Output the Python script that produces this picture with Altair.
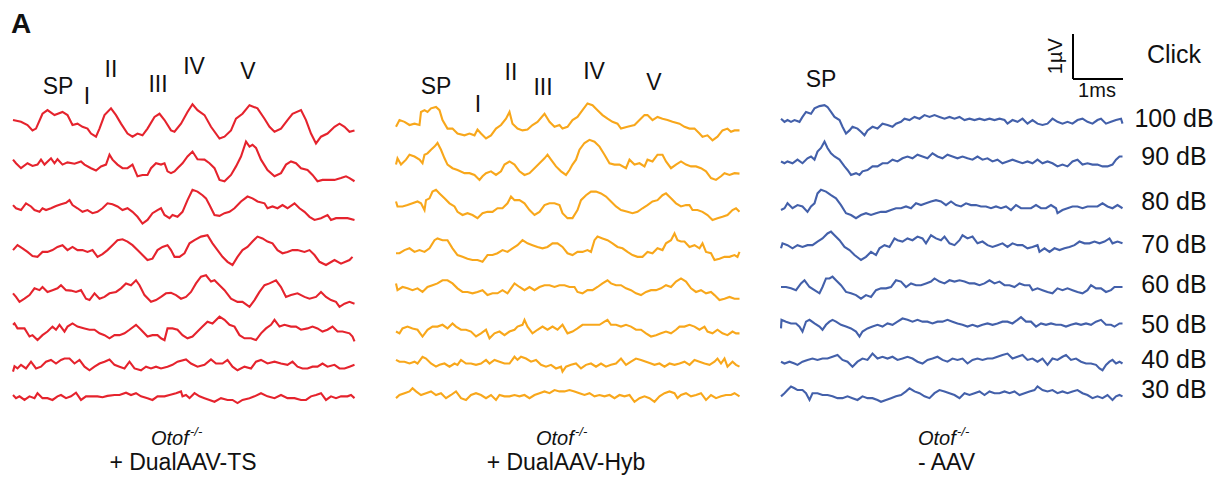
import altair as alt
import pandas as pd

# ---------------- data (time in ms, amplitude in µV relative to each trace's baseline) ----------------
LEVELS = ["100 dB", "90 dB", "80 dB", "70 dB", "60 dB", "50 dB", "40 dB", "30 dB"]
ROW_OFFSET_UV = [7.84, 6.96, 6.00, 5.02, 4.13, 3.29, 2.51, 1.78]

TS_100 = [(0,0.07),(0.16,0.03),(0.29,-0.04),(0.39,-0.16),(0.46,-0.12),(0.59,0.21),(0.69,0.29),(0.83,0.18),(0.99,0.25),(1.09,0.18),(1.19,-0.04),(1.29,-0.01),(1.39,-0.08),(1.49,-0.12),(1.56,-0.23),(1.66,-0.30),(1.73,-0.12),(1.83,0.18),(1.96,0.33),(2.06,0.18),(2.16,-0.01),(2.29,-0.23),(2.39,-0.30),(2.49,-0.23),(2.59,-0.27),(2.69,-0.12),(2.83,0.14),(2.93,0.21),(3.03,0.07),(3.16,-0.16),(3.23,-0.19),(3.36,-0.01),(3.49,0.25),(3.59,0.42),(3.69,0.29),(3.83,0.18),(3.96,-0.08),(4.13,-0.34),(4.23,-0.30),(4.36,-0.16),(4.46,0.10),(4.59,0.21),(4.73,0.40),(4.89,0.33),(5.03,0.10),(5.13,-0.08),(5.23,-0.19),(5.36,-0.12),(5.49,0.07),(5.59,0.21),(5.76,0.29),(5.86,0.07),(5.96,-0.23),(6.06,-0.45),(6.16,-0.30),(6.29,-0.23),(6.43,-0.08),(6.53,-0.01),(6.63,-0.08),(6.73,-0.19),(6.83,-0.16)]
TS_90 = [(0,0.07),(0.06,-0.01),(0.16,-0.12),(0.29,-0.01),(0.39,-0.07),(0.49,-0.04),(0.56,0.07),(0.63,-0.04),(0.76,0.10),(0.83,-0.01),(0.89,0.08),(0.99,-0.04),(1.09,0.01),(1.23,-0.02),(1.36,0.03),(1.43,-0.04),(1.56,-0.12),(1.66,-0.17),(1.76,-0.08),(1.86,-0.04),(1.93,0.18),(1.99,0.07),(2.09,-0.04),(2.19,-0.12),(2.29,-0.12),(2.39,-0.04),(2.49,-0.30),(2.59,-0.27),(2.69,-0.27),(2.76,-0.12),(2.86,-0.01),(2.96,-0.04),(3.03,-0.01),(3.09,-0.19),(3.16,-0.23),(3.23,-0.19),(3.29,-0.12),(3.39,-0.01),(3.49,0.14),(3.59,0.25),(3.69,0.08),(3.83,0.07),(3.93,-0.01),(4.03,-0.12),(4.13,-0.38),(4.23,-0.41),(4.36,-0.27),(4.46,-0.08),(4.56,0.14),(4.66,0.47),(4.73,0.36),(4.79,0.40),(4.86,0.33),(4.96,0.07),(5.09,-0.16),(5.23,-0.30),(5.36,-0.23),(5.46,-0.04),(5.56,0.03),(5.66,-0.01),(5.76,-0.12),(5.89,-0.16),(5.99,-0.27),(6.09,-0.41),(6.19,-0.38),(6.29,-0.38),(6.43,-0.38),(6.56,-0.34),(6.66,-0.30),(6.73,-0.34),(6.83,-0.41)]
TS_80 = [(0,0.02),(0.06,-0.05),(0.16,-0.09),(0.26,0.06),(0.36,-0.01),(0.43,-0.09),(0.53,-0.13),(0.59,-0.05),(0.66,-0.09),(0.76,-0.05),(0.86,0.00),(0.96,0.04),(1.06,0.07),(1.13,0.13),(1.19,0.02),(1.29,-0.05),(1.39,-0.13),(1.49,-0.09),(1.59,-0.16),(1.69,-0.13),(1.79,-0.05),(1.89,0.06),(1.99,0.04),(2.09,-0.01),(2.19,-0.09),(2.29,-0.05),(2.39,-0.13),(2.49,-0.24),(2.59,-0.39),(2.69,-0.31),(2.79,-0.16),(2.89,-0.09),(2.96,-0.05),(3.03,-0.20),(3.13,-0.27),(3.19,-0.20),(3.29,-0.24),(3.39,-0.13),(3.49,0.13),(3.59,0.36),(3.69,0.32),(3.79,0.24),(3.86,0.17),(3.93,0.02),(4.03,-0.20),(4.13,-0.22),(4.23,-0.16),(4.33,-0.13),(4.43,-0.05),(4.56,0.10),(4.69,0.21),(4.79,0.17),(4.89,0.10),(5.03,0.06),(5.09,-0.05),(5.19,-0.01),(5.29,-0.05),(5.39,0.02),(5.49,-0.05),(5.63,0.06),(5.73,-0.05),(5.83,-0.13),(5.93,-0.24),(6.03,-0.31),(6.16,-0.27),(6.29,-0.20),(6.36,-0.31),(6.46,-0.27),(6.56,-0.27),(6.69,-0.27),(6.83,-0.31)]
TS_70 = [(0,0.00),(0.09,0.11),(0.19,0.04),(0.29,-0.04),(0.39,-0.13),(0.49,-0.15),(0.59,-0.04),(0.69,-0.04),(0.79,0.00),(0.89,0.07),(0.99,0.11),(1.09,0.00),(1.19,0.07),(1.29,0.00),(1.39,0.00),(1.49,-0.04),(1.59,0.00),(1.69,-0.15),(1.79,-0.09),(1.89,0.00),(1.99,0.11),(2.09,0.22),(2.19,0.24),(2.29,0.19),(2.39,0.11),(2.49,0.00),(2.59,-0.11),(2.69,-0.22),(2.79,-0.19),(2.89,0.00),(2.99,0.07),(3.09,0.11),(3.16,0.00),(3.23,-0.15),(3.33,-0.15),(3.43,-0.07),(3.53,0.15),(3.63,0.22),(3.76,0.30),(3.89,0.33),(3.99,0.15),(4.09,0.00),(4.19,-0.15),(4.29,-0.26),(4.39,-0.33),(4.49,-0.15),(4.59,0.00),(4.69,0.07),(4.79,0.19),(4.89,0.30),(4.99,0.26),(5.09,0.19),(5.19,0.15),(5.29,0.00),(5.39,-0.07),(5.49,-0.04),(5.59,0.00),(5.69,0.00),(5.83,-0.04),(5.93,0.00),(6.03,-0.11),(6.13,-0.26),(6.26,-0.33),(6.43,-0.22),(6.56,-0.30),(6.73,-0.22),(6.79,-0.15)]
TS_60 = [(0,-0.07),(0.06,-0.15),(0.13,-0.26),(0.23,-0.19),(0.33,-0.11),(0.43,0.04),(0.53,0.00),(0.59,0.07),(0.69,-0.04),(0.79,0.00),(0.89,0.04),(0.96,0.11),(1.06,0.00),(1.16,-0.01),(1.26,-0.04),(1.36,0.00),(1.46,-0.19),(1.53,-0.22),(1.63,-0.07),(1.73,-0.19),(1.83,-0.15),(1.93,-0.07),(2.06,-0.04),(2.16,0.04),(2.26,0.15),(2.36,0.11),(2.46,0.22),(2.53,0.11),(2.63,-0.11),(2.76,-0.26),(2.86,-0.22),(2.96,-0.15),(3.06,-0.07),(3.16,-0.06),(3.26,-0.11),(3.36,-0.19),(3.46,-0.15),(3.56,-0.04),(3.66,0.15),(3.76,0.30),(3.86,0.33),(3.96,0.19),(4.03,0.22),(4.13,0.11),(4.23,0.00),(4.36,-0.19),(4.49,-0.26),(4.59,-0.26),(4.73,-0.37),(4.83,-0.22),(4.93,-0.04),(5.03,0.11),(5.13,0.15),(5.26,0.22),(5.36,0.07),(5.46,-0.15),(5.56,-0.11),(5.69,-0.07),(5.83,-0.15),(5.93,-0.19),(6.06,-0.15),(6.16,-0.04),(6.26,-0.15),(6.36,-0.22),(6.46,-0.26),(6.53,-0.37),(6.63,-0.30),(6.73,-0.26),(6.83,-0.30)]
TS_50 = [(0,0.07),(0.03,0.10),(0.09,-0.01),(0.23,-0.01),(0.33,-0.19),(0.39,-0.16),(0.49,-0.27),(0.59,-0.16),(0.69,-0.08),(0.79,0.03),(0.86,-0.04),(0.93,0.07),(1.03,-0.08),(1.09,0.03),(1.19,0.10),(1.29,0.03),(1.43,-0.01),(1.53,-0.04),(1.63,-0.04),(1.73,-0.12),(1.83,-0.16),(1.93,-0.23),(2.03,-0.16),(2.13,-0.16),(2.23,-0.12),(2.33,-0.04),(2.46,0.07),(2.56,-0.04),(2.69,-0.19),(2.79,-0.16),(2.89,-0.16),(2.96,-0.23),(3.03,-0.27),(3.09,-0.01),(3.19,-0.01),(3.29,-0.04),(3.39,-0.16),(3.49,-0.23),(3.59,-0.19),(3.69,-0.08),(3.79,0.03),(3.89,0.14),(3.99,0.10),(4.13,0.25),(4.23,0.18),(4.33,0.07),(4.43,0.03),(4.53,-0.16),(4.63,-0.23),(4.76,-0.23),(4.86,-0.27),(4.96,-0.12),(5.06,-0.01),(5.16,0.07),(5.23,0.18),(5.33,0.03),(5.43,0.07),(5.56,0.03),(5.66,0.03),(5.76,-0.04),(5.89,-0.01),(5.99,0.03),(6.09,-0.01),(6.19,-0.08),(6.29,-0.04),(6.39,0.03),(6.49,-0.08),(6.59,-0.08),(6.73,-0.12),(6.79,-0.19),(6.83,-0.30)]
TS_40 = [(0,-0.19),(0.03,-0.07),(0.09,-0.12),(0.16,-0.04),(0.26,-0.12),(0.36,0.03),(0.46,-0.12),(0.56,-0.08),(0.66,0.03),(0.76,0.07),(0.86,-0.01),(0.96,0.07),(1.03,0.10),(1.13,0.10),(1.23,-0.01),(1.33,0.07),(1.43,-0.08),(1.53,-0.16),(1.63,-0.08),(1.73,-0.01),(1.83,0.03),(1.93,0.08),(2.03,-0.04),(2.13,-0.08),(2.23,-0.12),(2.33,0.03),(2.43,-0.12),(2.56,-0.16),(2.66,-0.08),(2.76,-0.12),(2.86,-0.08),(2.96,-0.12),(3.09,-0.08),(3.19,-0.04),(3.29,0.03),(3.46,0.08),(3.56,-0.01),(3.69,-0.08),(3.83,-0.04),(3.96,0.08),(4.06,-0.01),(4.19,-0.01),(4.29,0.07),(4.39,-0.08),(4.49,-0.16),(4.63,-0.08),(4.76,-0.12),(4.86,0.03),(4.96,0.07),(5.09,-0.01),(5.23,0.03),(5.36,-0.01),(5.49,-0.04),(5.59,0.03),(5.69,-0.08),(5.79,-0.12),(5.89,-0.12),(5.99,-0.08),(6.09,-0.08),(6.19,-0.01),(6.29,-0.08),(6.43,-0.04),(6.53,-0.12),(6.63,-0.12),(6.73,-0.08),(6.83,-0.04)]
TS_30 = [(0,0.02),(0.06,-0.05),(0.13,-0.01),(0.23,-0.09),(0.33,-0.01),(0.43,-0.05),(0.49,0.06),(0.59,-0.05),(0.69,-0.05),(0.79,-0.09),(0.89,-0.01),(0.96,0.02),(1.06,-0.05),(1.16,-0.01),(1.26,0.07),(1.36,-0.09),(1.46,-0.01),(1.56,-0.01),(1.69,-0.01),(1.79,-0.03),(1.89,0.00),(2.03,0.02),(2.13,0.02),(2.26,0.07),(2.36,0.02),(2.46,0.06),(2.56,-0.01),(2.69,-0.05),(2.79,-0.09),(2.89,-0.01),(3.03,-0.01),(3.13,0.02),(3.26,0.06),(3.36,0.10),(3.39,-0.01),(3.46,0.02),(3.53,-0.05),(3.63,0.06),(3.73,-0.01),(3.83,-0.05),(3.93,-0.09),(4.03,-0.13),(4.16,-0.05),(4.29,-0.09),(4.39,-0.09),(4.49,-0.16),(4.59,-0.09),(4.73,-0.05),(4.83,-0.01),(4.96,0.06),(5.09,-0.01),(5.23,-0.05),(5.36,0.02),(5.49,-0.05),(5.63,-0.05),(5.76,-0.09),(5.86,-0.09),(5.96,-0.01),(6.06,0.02),(6.16,0.06),(6.26,-0.09),(6.36,-0.01),(6.46,-0.05),(6.56,-0.01),(6.69,-0.01),(6.76,0.02),(6.83,-0.05)]

HYB_100 = [(0,-0.08),(0.07,0.07),(0.17,0.03),(0.27,-0.04),(0.37,-0.01),(0.47,-0.04),(0.50,0.25),(0.57,0.29),(0.63,0.25),(0.70,0.33),(0.80,0.36),(0.87,0.29),(0.93,0.07),(1.03,-0.12),(1.13,-0.12),(1.23,-0.23),(1.37,-0.27),(1.47,-0.23),(1.57,-0.27),(1.63,-0.14),(1.70,-0.23),(1.80,-0.34),(1.90,-0.27),(2.00,-0.12),(2.10,-0.04),(2.20,0.10),(2.27,0.25),(2.33,-0.01),(2.43,-0.12),(2.53,-0.16),(2.63,-0.14),(2.73,-0.04),(2.83,0.03),(2.97,0.21),(3.07,0.03),(3.17,-0.08),(3.27,-0.04),(3.33,-0.12),(3.43,-0.08),(3.53,0.07),(3.63,0.14),(3.73,0.29),(3.83,0.44),(3.93,0.40),(4.03,0.29),(4.13,0.18),(4.23,0.10),(4.33,0.03),(4.43,-0.01),(4.50,-0.12),(4.63,-0.08),(4.77,-0.04),(4.87,0.07),(4.97,0.18),(5.03,0.18),(5.13,0.07),(5.23,0.14),(5.33,0.10),(5.43,0.07),(5.53,0.03),(5.67,-0.01),(5.77,-0.08),(5.87,-0.12),(5.97,-0.12),(6.07,-0.23),(6.13,-0.30),(6.23,-0.27),(6.33,-0.38),(6.43,-0.30),(6.53,-0.16),(6.63,-0.12),(6.70,-0.19),(6.77,-0.16),(6.87,-0.16)]
HYB_90 = [(0,-0.04),(0.03,0.10),(0.10,-0.04),(0.20,0.07),(0.27,0.18),(0.37,0.14),(0.47,0.07),(0.53,-0.01),(0.57,0.18),(0.63,0.21),(0.70,0.29),(0.77,0.36),(0.83,0.44),(0.90,0.29),(0.97,0.10),(1.03,-0.04),(1.13,-0.12),(1.23,-0.16),(1.37,-0.23),(1.47,-0.23),(1.57,-0.27),(1.67,-0.38),(1.73,-0.30),(1.80,-0.23),(1.90,-0.19),(2.00,-0.27),(2.10,-0.19),(2.17,-0.04),(2.27,0.03),(2.37,-0.04),(2.47,-0.19),(2.57,-0.27),(2.67,-0.23),(2.77,-0.12),(2.87,-0.01),(2.97,0.10),(3.03,0.18),(3.10,0.07),(3.20,-0.08),(3.30,-0.19),(3.40,-0.27),(3.47,-0.16),(3.53,-0.04),(3.60,0.07),(3.67,0.29),(3.77,0.44),(3.87,0.51),(3.97,0.47),(4.07,0.36),(4.17,0.18),(4.27,-0.01),(4.37,-0.04),(4.47,-0.04),(4.60,-0.12),(4.67,0.07),(4.77,-0.04),(4.87,-0.01),(4.97,-0.08),(5.03,0.07),(5.13,0.03),(5.23,0.18),(5.33,0.18),(5.40,0.03),(5.50,-0.12),(5.60,-0.04),(5.70,0.03),(5.80,-0.04),(5.90,-0.08),(6.00,-0.08),(6.10,-0.12),(6.20,-0.19),(6.30,-0.34),(6.40,-0.38),(6.50,-0.30),(6.57,-0.23),(6.67,-0.27),(6.77,-0.23),(6.87,-0.24)]
HYB_80 = [(0,0.10),(0.03,-0.01),(0.13,-0.01),(0.23,0.02),(0.33,0.06),(0.43,0.10),(0.50,0.06),(0.57,-0.09),(0.60,0.13),(0.67,0.17),(0.73,0.32),(0.80,0.36),(0.87,0.28),(0.97,0.17),(1.07,0.06),(1.17,-0.01),(1.23,-0.13),(1.33,-0.20),(1.43,-0.16),(1.53,-0.20),(1.63,-0.27),(1.73,-0.16),(1.83,-0.13),(1.93,-0.13),(2.03,-0.05),(2.13,-0.05),(2.23,0.06),(2.30,0.21),(2.37,0.13),(2.47,0.13),(2.57,0.06),(2.67,-0.09),(2.77,-0.20),(2.87,-0.13),(2.97,0.02),(3.07,0.06),(3.17,0.06),(3.27,0.02),(3.33,-0.16),(3.43,-0.27),(3.53,-0.27),(3.63,-0.09),(3.70,0.13),(3.80,0.24),(3.90,0.32),(4.00,0.32),(4.10,0.28),(4.20,0.21),(4.30,0.10),(4.40,-0.01),(4.50,-0.09),(4.63,-0.13),(4.73,-0.16),(4.83,-0.13),(4.93,-0.05),(5.03,0.02),(5.13,0.10),(5.23,0.13),(5.33,0.24),(5.40,0.28),(5.50,0.17),(5.60,0.06),(5.70,-0.01),(5.80,0.02),(5.87,0.02),(5.93,-0.09),(6.03,-0.09),(6.13,-0.13),(6.23,-0.20),(6.33,-0.31),(6.43,-0.27),(6.53,-0.24),(6.63,-0.20),(6.73,-0.09),(6.80,-0.05),(6.87,-0.13)]
HYB_70 = [(0,-0.07),(0.07,-0.07),(0.17,0.00),(0.27,0.04),(0.37,-0.04),(0.47,0.00),(0.57,-0.04),(0.67,0.04),(0.77,0.22),(0.83,0.26),(0.93,0.22),(1.03,0.22),(1.13,0.04),(1.23,-0.11),(1.33,-0.15),(1.43,-0.19),(1.53,-0.22),(1.63,-0.22),(1.73,-0.26),(1.83,-0.11),(1.93,-0.11),(2.03,-0.07),(2.13,0.00),(2.23,-0.04),(2.33,0.04),(2.43,0.11),(2.53,0.22),(2.63,0.15),(2.73,0.11),(2.83,0.07),(2.93,0.04),(3.03,0.07),(3.13,0.15),(3.23,0.15),(3.33,0.07),(3.43,-0.07),(3.53,-0.11),(3.63,-0.04),(3.73,-0.04),(3.83,0.00),(3.90,-0.04),(3.97,0.22),(4.03,0.30),(4.13,0.26),(4.23,0.22),(4.33,0.15),(4.43,0.07),(4.53,0.04),(4.63,-0.04),(4.73,-0.11),(4.83,-0.15),(4.93,-0.15),(5.03,-0.04),(5.13,-0.07),(5.23,0.04),(5.33,0.00),(5.40,0.15),(5.50,0.22),(5.57,0.37),(5.63,0.22),(5.70,0.19),(5.77,0.19),(5.87,0.07),(5.97,0.11),(6.07,0.04),(6.13,0.15),(6.20,-0.04),(6.30,-0.07),(6.37,-0.22),(6.47,-0.19),(6.57,-0.15),(6.67,-0.15),(6.77,-0.11),(6.83,-0.15),(6.87,-0.04)]
HYB_60 = [(0,0.15),(0.03,0.00),(0.13,0.07),(0.23,0.04),(0.33,0.00),(0.43,0.04),(0.53,-0.04),(0.63,0.07),(0.73,0.11),(0.83,0.15),(0.93,0.22),(1.03,0.22),(1.13,0.15),(1.23,0.04),(1.33,-0.04),(1.43,-0.04),(1.53,-0.07),(1.63,-0.04),(1.73,0.00),(1.83,-0.11),(1.93,-0.07),(2.03,-0.07),(2.13,0.00),(2.23,-0.07),(2.30,0.04),(2.37,0.15),(2.47,0.07),(2.57,0.00),(2.67,0.07),(2.77,0.00),(2.87,0.07),(2.97,0.11),(3.07,0.11),(3.17,0.07),(3.27,0.11),(3.37,0.11),(3.47,0.07),(3.57,0.07),(3.63,-0.04),(3.73,-0.07),(3.83,0.00),(3.93,0.00),(4.03,0.07),(4.13,0.15),(4.23,0.22),(4.30,0.15),(4.40,0.11),(4.50,0.11),(4.60,0.04),(4.70,0.00),(4.80,-0.07),(4.90,-0.11),(5.00,-0.04),(5.10,0.00),(5.20,0.00),(5.30,0.04),(5.40,0.11),(5.50,0.07),(5.60,0.19),(5.70,0.26),(5.80,0.19),(5.90,0.04),(6.00,-0.04),(6.10,0.00),(6.20,-0.07),(6.30,-0.04),(6.37,-0.11),(6.47,-0.22),(6.57,-0.19),(6.67,-0.15),(6.77,-0.19),(6.87,-0.19)]
HYB_50 = [(0,-0.08),(0.07,-0.12),(0.13,-0.01),(0.23,0.03),(0.33,-0.01),(0.43,-0.04),(0.53,-0.19),(0.63,-0.04),(0.73,0.03),(0.83,0.03),(0.93,0.07),(1.03,-0.01),(1.13,0.10),(1.20,0.03),(1.30,-0.04),(1.40,-0.04),(1.50,-0.08),(1.60,-0.19),(1.70,-0.12),(1.80,-0.04),(1.87,-0.23),(1.97,-0.12),(2.07,-0.08),(2.17,-0.16),(2.27,-0.08),(2.37,-0.04),(2.43,0.03),(2.53,0.07),(2.57,0.18),(2.63,0.03),(2.73,-0.12),(2.83,-0.04),(2.93,0.03),(3.03,-0.04),(3.13,0.03),(3.23,-0.04),(3.33,0.07),(3.43,-0.12),(3.53,-0.08),(3.63,-0.01),(3.73,0.07),(3.83,0.07),(3.93,0.07),(4.07,0.07),(4.17,0.14),(4.23,0.18),(4.30,0.07),(4.40,0.07),(4.50,0.03),(4.60,0.07),(4.70,0.03),(4.80,-0.04),(4.90,-0.04),(5.00,-0.12),(5.10,-0.19),(5.20,-0.16),(5.30,-0.12),(5.40,-0.08),(5.50,-0.12),(5.60,-0.04),(5.67,0.03),(5.77,0.03),(5.87,0.07),(5.97,0.03),(6.07,-0.04),(6.17,0.03),(6.23,-0.08),(6.33,-0.12),(6.43,-0.04),(6.53,-0.12),(6.63,-0.16),(6.73,-0.08),(6.80,-0.12),(6.87,-0.12)]
HYB_40 = [(0,0.07),(0.07,0.03),(0.17,0.03),(0.27,-0.01),(0.37,0.03),(0.43,-0.01),(0.53,0.14),(0.60,0.10),(0.70,-0.01),(0.80,-0.08),(0.87,-0.04),(0.97,-0.01),(1.07,-0.08),(1.17,-0.01),(1.23,-0.04),(1.30,0.07),(1.40,-0.01),(1.50,-0.01),(1.60,-0.04),(1.70,-0.01),(1.80,0.07),(1.87,-0.01),(1.97,0.07),(2.07,0.03),(2.17,-0.01),(2.27,-0.01),(2.37,0.14),(2.43,0.07),(2.50,0.14),(2.60,0.10),(2.70,0.03),(2.80,0.07),(2.90,-0.04),(3.00,-0.08),(3.10,-0.04),(3.20,-0.12),(3.30,-0.08),(3.33,-0.19),(3.40,-0.08),(3.50,-0.04),(3.60,-0.01),(3.70,-0.12),(3.80,-0.04),(3.90,-0.01),(4.00,-0.08),(4.10,-0.01),(4.20,-0.08),(4.30,-0.04),(4.40,-0.01),(4.50,0.10),(4.60,-0.04),(4.70,0.03),(4.80,0.10),(4.90,0.07),(5.00,0.03),(5.10,-0.01),(5.17,-0.04),(5.27,-0.01),(5.37,-0.08),(5.47,-0.01),(5.57,-0.04),(5.67,-0.01),(5.77,0.03),(5.87,-0.04),(5.97,0.07),(6.07,0.03),(6.17,-0.01),(6.27,-0.04),(6.37,0.03),(6.43,0.10),(6.50,-0.01),(6.57,0.10),(6.63,-0.08),(6.73,0.03),(6.80,-0.04),(6.87,-0.08)]
HYB_30 = [(0,-0.05),(0.07,0.02),(0.17,0.06),(0.27,0.10),(0.33,0.17),(0.40,0.10),(0.50,0.02),(0.60,0.06),(0.70,0.10),(0.80,0.02),(0.90,0.06),(1.00,-0.05),(1.10,0.02),(1.20,0.10),(1.30,-0.05),(1.40,-0.09),(1.50,0.02),(1.60,0.06),(1.70,0.02),(1.80,-0.05),(1.90,0.02),(2.00,-0.09),(2.07,0.02),(2.17,-0.01),(2.27,-0.01),(2.37,0.02),(2.47,-0.01),(2.57,0.02),(2.67,-0.05),(2.77,0.02),(2.87,0.06),(2.97,0.10),(3.07,0.06),(3.17,0.13),(3.27,0.10),(3.37,0.10),(3.47,0.13),(3.57,0.10),(3.67,0.06),(3.77,0.02),(3.87,0.06),(3.97,-0.01),(4.07,0.02),(4.17,-0.01),(4.27,0.02),(4.37,-0.05),(4.47,0.02),(4.57,-0.01),(4.67,0.02),(4.77,-0.13),(4.87,-0.05),(4.97,-0.01),(5.07,-0.05),(5.17,-0.13),(5.27,-0.01),(5.37,0.06),(5.47,0.10),(5.57,0.06),(5.63,-0.05),(5.70,0.02),(5.80,0.06),(5.90,-0.01),(6.00,0.02),(6.10,0.06),(6.20,-0.09),(6.30,0.02),(6.40,-0.05),(6.50,-0.01),(6.60,0.02),(6.70,0.02),(6.77,0.06),(6.87,-0.01)]

NOAAV_100 = [(0.02,0.10),(0.09,0.03),(0.15,0.07),(0.22,0.03),(0.29,0.07),(0.39,0.03),(0.45,0.14),(0.52,0.25),(0.62,0.21),(0.69,0.33),(0.79,0.38),(0.89,0.40),(0.95,0.36),(1.02,0.25),(1.09,0.14),(1.19,0.07),(1.25,-0.08),(1.32,-0.23),(1.39,-0.16),(1.45,-0.08),(1.55,-0.12),(1.62,-0.19),(1.69,-0.27),(1.75,-0.16),(1.85,-0.08),(1.95,-0.12),(2.05,-0.01),(2.15,-0.04),(2.25,-0.08),(2.32,-0.01),(2.42,0.03),(2.49,0.10),(2.59,0.07),(2.69,0.14),(2.79,0.10),(2.89,0.18),(2.99,0.14),(3.09,0.18),(3.19,0.14),(3.29,0.10),(3.39,0.14),(3.49,0.10),(3.59,0.14),(3.69,0.07),(3.79,0.10),(3.89,0.07),(3.99,0.10),(4.09,0.07),(4.19,0.10),(4.29,0.07),(4.39,0.10),(4.49,0.07),(4.55,-0.01),(4.65,0.07),(4.75,0.03),(4.85,0.10),(4.95,-0.01),(5.05,0.07),(5.15,-0.01),(5.25,-0.04),(5.35,-0.01),(5.45,0.10),(5.55,0.03),(5.65,-0.01),(5.75,0.03),(5.85,-0.01),(5.95,0.07),(6.05,0.10),(6.15,0.03),(6.25,-0.01),(6.35,0.07),(6.42,0.10),(6.52,-0.01),(6.62,0.03),(6.72,0.07),(6.82,0.10),(6.85,-0.01)]
NOAAV_90 = [(0.02,0.03),(0.09,-0.01),(0.15,0.03),(0.25,-0.01),(0.35,0.07),(0.45,-0.01),(0.55,0.10),(0.62,0.14),(0.69,0.07),(0.75,0.25),(0.82,0.33),(0.89,0.47),(0.95,0.33),(1.02,0.21),(1.09,0.14),(1.19,0.07),(1.29,-0.08),(1.35,-0.16),(1.42,-0.27),(1.52,-0.23),(1.59,-0.27),(1.65,-0.19),(1.75,-0.16),(1.85,-0.08),(1.95,-0.08),(2.05,-0.01),(2.15,-0.01),(2.25,0.07),(2.35,0.03),(2.45,0.10),(2.55,0.14),(2.65,0.10),(2.75,0.18),(2.85,0.14),(2.95,0.10),(3.05,0.21),(3.15,0.14),(3.25,0.10),(3.35,0.18),(3.45,0.14),(3.55,0.10),(3.65,0.14),(3.75,0.10),(3.85,0.07),(3.95,0.14),(4.05,0.07),(4.15,0.10),(4.25,0.03),(4.35,0.07),(4.45,-0.01),(4.55,0.03),(4.65,0.07),(4.75,0.03),(4.85,-0.01),(4.95,0.03),(5.05,-0.01),(5.15,0.07),(5.25,-0.01),(5.35,0.03),(5.45,-0.01),(5.55,-0.08),(5.65,-0.04),(5.75,-0.08),(5.85,0.03),(5.95,0.07),(6.05,-0.04),(6.15,-0.01),(6.25,-0.04),(6.35,-0.04),(6.45,-0.08),(6.55,-0.08),(6.65,-0.04),(6.72,0.07),(6.79,0.14),(6.85,0.14)]
NOAAV_80 = [(0.02,-0.09),(0.09,-0.05),(0.15,0.06),(0.25,-0.05),(0.35,0.02),(0.45,-0.01),(0.55,-0.13),(0.62,-0.01),(0.69,0.06),(0.75,0.28),(0.82,0.36),(0.92,0.32),(1.02,0.24),(1.12,0.17),(1.22,0.02),(1.32,-0.16),(1.42,-0.20),(1.52,-0.27),(1.62,-0.20),(1.72,-0.16),(1.82,-0.20),(1.92,-0.16),(2.02,-0.13),(2.12,-0.13),(2.22,-0.09),(2.32,-0.05),(2.42,-0.05),(2.52,-0.01),(2.62,-0.05),(2.72,0.06),(2.82,0.02),(2.92,0.06),(3.02,0.10),(3.12,0.13),(3.22,0.10),(3.32,0.02),(3.42,0.10),(3.52,0.02),(3.62,-0.01),(3.72,0.06),(3.82,0.02),(3.92,0.02),(4.02,-0.01),(4.12,-0.01),(4.22,-0.05),(4.32,-0.01),(4.42,-0.05),(4.52,-0.01),(4.62,-0.09),(4.72,0.02),(4.82,-0.05),(4.92,-0.05),(5.02,-0.05),(5.12,0.02),(5.22,-0.05),(5.32,-0.05),(5.42,0.02),(5.52,-0.05),(5.55,-0.16),(5.65,-0.09),(5.75,-0.05),(5.85,-0.01),(5.95,-0.01),(6.05,-0.05),(6.15,-0.01),(6.25,-0.01),(6.35,-0.01),(6.45,0.06),(6.55,-0.01),(6.65,-0.05),(6.75,0.02),(6.85,-0.05)]
NOAAV_70 = [(0.02,0.04),(0.05,0.15),(0.15,0.11),(0.25,0.04),(0.35,0.11),(0.45,0.07),(0.55,0.11),(0.65,0.11),(0.75,0.19),(0.85,0.26),(0.95,0.37),(1.02,0.41),(1.09,0.33),(1.19,0.22),(1.29,0.07),(1.39,0.00),(1.49,-0.11),(1.62,-0.22),(1.72,-0.15),(1.82,-0.04),(1.92,-0.11),(1.99,0.04),(2.09,0.11),(2.19,0.07),(2.29,0.26),(2.35,0.22),(2.45,0.19),(2.55,0.26),(2.65,0.22),(2.75,0.30),(2.85,0.26),(2.92,0.15),(3.02,0.33),(3.12,0.26),(3.22,0.22),(3.29,0.30),(3.39,0.15),(3.49,0.11),(3.59,0.22),(3.65,0.33),(3.75,0.26),(3.85,0.30),(3.95,0.15),(4.05,0.19),(4.15,0.11),(4.25,0.07),(4.35,0.11),(4.45,0.15),(4.55,0.07),(4.65,0.15),(4.75,0.11),(4.85,0.11),(4.95,0.04),(5.05,0.07),(5.15,0.11),(5.19,-0.04),(5.29,0.04),(5.39,-0.04),(5.49,0.04),(5.59,0.00),(5.69,0.04),(5.79,0.07),(5.89,0.11),(5.99,0.19),(6.09,0.15),(6.19,0.15),(6.29,0.19),(6.39,0.15),(6.49,0.19),(6.59,0.26),(6.65,0.15),(6.75,0.19),(6.85,0.15)]
NOAAV_60 = [(0.02,0.07),(0.12,0.07),(0.22,0.04),(0.32,0.00),(0.42,0.15),(0.49,0.22),(0.59,0.07),(0.69,0.00),(0.79,-0.07),(0.85,0.07),(0.92,0.26),(0.99,0.26),(1.05,0.30),(1.12,0.22),(1.22,0.11),(1.32,-0.04),(1.42,-0.07),(1.52,-0.11),(1.62,-0.19),(1.72,-0.11),(1.82,-0.15),(1.92,0.00),(2.02,0.04),(2.12,0.04),(2.22,0.07),(2.32,0.22),(2.42,0.19),(2.52,0.07),(2.62,0.15),(2.72,0.11),(2.82,0.11),(2.92,0.15),(3.02,0.19),(3.09,0.26),(3.19,0.19),(3.29,0.15),(3.39,0.22),(3.49,0.19),(3.59,0.22),(3.69,0.19),(3.79,0.15),(3.89,0.15),(3.99,0.11),(4.09,0.15),(4.19,0.22),(4.29,0.15),(4.39,0.19),(4.49,0.11),(4.59,0.11),(4.69,0.07),(4.79,0.15),(4.89,0.11),(4.99,0.11),(5.05,0.00),(5.15,0.04),(5.25,0.00),(5.35,-0.04),(5.45,-0.07),(5.55,0.04),(5.65,0.00),(5.75,0.04),(5.85,0.00),(5.95,-0.04),(6.05,-0.07),(6.15,0.00),(6.22,0.11),(6.32,0.04),(6.42,0.04),(6.52,-0.04),(6.62,0.00),(6.69,0.07),(6.79,0.07),(6.85,0.07)]
NOAAV_50 = [(0.02,-0.01),(0.03,0.18),(0.12,0.14),(0.22,0.10),(0.32,0.10),(0.39,0.03),(0.45,-0.08),(0.52,0.14),(0.59,0.18),(0.69,0.10),(0.79,0.03),(0.85,-0.04),(0.92,0.07),(0.99,0.14),(1.05,0.18),(1.12,0.14),(1.22,0.07),(1.32,0.03),(1.42,-0.01),(1.52,-0.08),(1.59,-0.19),(1.65,-0.08),(1.75,-0.01),(1.85,0.03),(1.95,0.07),(2.05,0.03),(2.15,0.10),(2.25,0.07),(2.35,0.14),(2.45,0.21),(2.55,0.18),(2.65,0.14),(2.75,0.18),(2.85,0.14),(2.95,0.14),(3.05,0.10),(3.15,0.14),(3.25,0.14),(3.35,0.18),(3.45,0.14),(3.55,0.10),(3.65,0.07),(3.75,0.03),(3.85,0.07),(3.95,0.03),(4.05,0.07),(4.15,0.10),(4.25,0.07),(4.35,0.10),(4.45,0.14),(4.55,0.14),(4.65,0.10),(4.75,0.18),(4.82,0.24),(4.92,0.14),(5.02,0.14),(5.12,0.03),(5.22,0.10),(5.32,0.07),(5.42,0.10),(5.52,0.07),(5.62,0.07),(5.72,0.03),(5.82,0.07),(5.92,0.10),(6.02,0.07),(6.12,0.10),(6.22,0.07),(6.32,0.14),(6.42,0.18),(6.52,0.07),(6.62,0.07),(6.69,0.03),(6.79,0.10),(6.85,0.10)]
NOAAV_40 = [(0.02,0.03),(0.09,-0.01),(0.19,0.03),(0.29,-0.01),(0.35,-0.04),(0.45,0.03),(0.55,0.07),(0.65,0.10),(0.75,0.07),(0.85,0.10),(0.95,0.10),(1.05,0.14),(1.15,0.18),(1.25,0.07),(1.35,0.03),(1.45,-0.08),(1.55,0.03),(1.65,0.10),(1.75,0.07),(1.85,0.21),(1.95,0.10),(2.05,0.14),(2.15,0.10),(2.25,0.14),(2.35,0.07),(2.45,0.10),(2.55,0.14),(2.65,0.10),(2.75,0.03),(2.85,-0.01),(2.95,0.07),(3.05,0.10),(3.15,0.14),(3.25,0.07),(3.35,0.03),(3.45,0.10),(3.55,0.07),(3.65,0.10),(3.75,-0.01),(3.85,0.07),(3.95,0.10),(4.05,0.07),(4.15,0.10),(4.25,0.10),(4.35,0.14),(4.45,0.18),(4.55,0.21),(4.65,0.10),(4.75,0.14),(4.85,0.18),(4.95,0.07),(5.05,0.10),(5.15,0.03),(5.25,0.10),(5.35,-0.04),(5.45,0.10),(5.55,0.07),(5.65,0.14),(5.72,0.18),(5.82,0.07),(5.92,0.10),(6.02,0.03),(6.12,-0.01),(6.22,-0.01),(6.32,-0.04),(6.39,-0.12),(6.45,-0.16),(6.52,-0.04),(6.59,0.03),(6.65,0.07),(6.72,-0.01),(6.79,0.03),(6.85,-0.01)]
NOAAV_30 = [(0.02,-0.01),(0.09,0.06),(0.15,0.13),(0.22,0.21),(0.29,0.17),(0.35,0.13),(0.45,0.13),(0.52,0.06),(0.59,-0.09),(0.65,0.06),(0.75,0.06),(0.85,0.02),(0.95,0.02),(1.05,-0.01),(1.15,-0.05),(1.25,-0.05),(1.35,-0.01),(1.45,-0.05),(1.55,-0.09),(1.65,-0.01),(1.75,-0.05),(1.85,-0.05),(1.95,-0.09),(2.02,-0.13),(2.12,-0.09),(2.22,-0.05),(2.32,-0.01),(2.42,0.02),(2.52,0.10),(2.59,0.17),(2.69,0.10),(2.79,0.06),(2.89,-0.01),(2.99,-0.05),(3.09,0.06),(3.19,0.13),(3.29,0.10),(3.39,0.06),(3.49,0.02),(3.59,-0.05),(3.69,0.06),(3.79,0.02),(3.89,0.06),(3.99,0.10),(4.09,0.02),(4.19,0.10),(4.29,0.06),(4.39,0.06),(4.49,0.10),(4.59,0.06),(4.69,0.10),(4.79,0.02),(4.89,0.06),(4.99,0.10),(5.09,0.13),(5.15,0.21),(5.25,0.13),(5.35,0.10),(5.45,0.13),(5.55,0.06),(5.65,0.10),(5.75,0.06),(5.85,0.10),(5.95,0.13),(6.05,0.06),(6.15,0.02),(6.25,-0.05),(6.35,-0.01),(6.45,-0.05),(6.55,0.02),(6.65,-0.09),(6.72,-0.01),(6.79,0.02),(6.85,-0.01)]

TS_TRACES = [TS_100, TS_90, TS_80, TS_70, TS_60, TS_50, TS_40, TS_30]
HYB_TRACES = [HYB_100, HYB_90, HYB_80, HYB_70, HYB_60, HYB_50, HYB_40, HYB_30]
NOAAV_TRACES = [NOAAV_100, NOAAV_90, NOAAV_80, NOAAV_70, NOAAV_60, NOAAV_50, NOAAV_40, NOAAV_30]

# peak annotations: (label, time ms, height µV on the stacked axis)
TS_PEAKS = [("SP", 0.90, 8.64), ("I", 1.48, 8.42), ("II", 1.96, 9.02), ("III", 2.90, 8.69), ("IV", 3.62, 9.09), ("V", 4.70, 8.98)]
HYB_PEAKS = [("SP", 0.80, 8.64), ("I", 1.64, 8.24), ("II", 2.30, 8.96), ("III", 2.94, 8.62), ("IV", 3.96, 8.98), ("V", 5.16, 8.73)]
NOAAV_PEAKS = [("SP", 0.82, 8.80)]

LEVEL_LABEL_Y = [7.93, 7.09, 6.09, 5.13, 4.24, 3.36, 2.58, 1.91]
GROUP_LINE2 = ["+ DualAAV-TS", "+ DualAAV-Hyb", "- AAV"]
COLORS = ["#E5232D", "#F8A71B", "#4360AA"]

SCALE_T0, SCALE_V0 = 5.86, 8.82   # scale bar corner
SCALE_MS, SCALE_UV = 1.0, 1.0

FONT = "Liberation Sans"
PLOT_H = 468
Y_DOMAIN = [0, PLOT_H / 45.0]


def xenc(domain):
    return alt.X("t:Q", scale=alt.Scale(domain=domain, nice=False, zero=False), axis=None)


def yenc():
    return alt.Y("y:Q", scale=alt.Scale(domain=Y_DOMAIN, nice=False, zero=False), axis=None)


def traces_df(traces):
    rows = []
    for lev, off, tr in zip(LEVELS, ROW_OFFSET_UV, traces):
        for i, (t, v) in enumerate(tr):
            rows.append({"level": lev, "i": i, "t": t, "y": off + v})
    return pd.DataFrame(rows)


def text_layer(df, domain, **kw):
    return alt.Chart(df).mark_text(font=FONT, color="#111111", **kw).encode(
        x=xenc(domain), y=yenc(), text="label:N")


def panel(traces, color, peaks, domain, caption_t, otof_t, line2):
    lines = alt.Chart(traces_df(traces)).mark_line(color=color, strokeWidth=2.1).encode(
        x=xenc(domain), y=yenc(), detail="level:N", order="i:Q")
    pk = pd.DataFrame([{"label": a, "t": b, "y": c} for a, b, c in peaks])
    peaks_l = text_layer(pk, domain, fontSize=23, align="center", baseline="middle")
    otof = text_layer(pd.DataFrame([{"label": "Otof", "t": otof_t, "y": 0.83}]), domain,
                      fontSize=20, fontStyle="italic", align="left", baseline="middle")
    sup = text_layer(pd.DataFrame([{"label": "-/-", "t": otof_t + 0.78, "y": 0.98}]), domain,
                     fontSize=13, fontStyle="italic", align="left", baseline="middle")
    l2 = text_layer(pd.DataFrame([{"label": line2, "t": caption_t, "y": 0.28}]), domain,
                    fontSize=23, align="center", baseline="middle")
    return [lines, peaks_l, otof, sup, l2]


D1, D2, D3 = [-0.08, 7.0], [-0.10, 7.0], [-0.12, 8.7]
W1, W2, W3 = 354, 355, 441

p1_layers = panel(TS_TRACES, COLORS[0], TS_PEAKS, D1, 3.40, 2.76, GROUP_LINE2[0])
letter = text_layer(pd.DataFrame([{"label": "A", "t": 0.16, "y": 10.03}]), D1,
                    fontSize=28, fontWeight="bold", align="center", baseline="middle")
p1 = alt.layer(*p1_layers, letter).properties(width=W1, height=PLOT_H)

p2 = alt.layer(*panel(HYB_TRACES, COLORS[1], HYB_PEAKS, D2, 3.40, 2.80, GROUP_LINE2[1])).properties(
    width=W2, height=PLOT_H)

p3_layers = panel(NOAAV_TRACES, COLORS[2], NOAAV_PEAKS, D3, 3.33, 2.76, GROUP_LINE2[2])
lvl = text_layer(pd.DataFrame([{"label": l, "t": 7.88, "y": y} for l, y in zip(LEVELS, LEVEL_LABEL_Y)]),
                 D3, fontSize=25, align="center", baseline="middle")
click = text_layer(pd.DataFrame([{"label": "Click", "t": 7.88, "y": 9.36}]), D3,
                   fontSize=25, align="center", baseline="middle")
ms = text_layer(pd.DataFrame([{"label": "1ms", "t": SCALE_T0 + 0.48, "y": SCALE_V0 - 0.26}]), D3,
                fontSize=20, align="center", baseline="middle")
uv = text_layer(pd.DataFrame([{"label": "1µV", "t": SCALE_T0 - 0.34, "y": SCALE_V0 + 0.51}]), D3,
                fontSize=20, align="center", baseline="middle", angle=270)
bar_df = pd.DataFrame([
    {"t": SCALE_T0, "y": SCALE_V0, "t2": SCALE_T0, "y2": SCALE_V0 + SCALE_UV},
    {"t": SCALE_T0, "y": SCALE_V0, "t2": SCALE_T0 + SCALE_MS, "y2": SCALE_V0},
])
bar = alt.Chart(bar_df).mark_rule(color="black", strokeWidth=2).encode(
    x=xenc(D3), y=yenc(), x2="t2:Q", y2="y2:Q")
p3 = alt.layer(*p3_layers, lvl, click, ms, uv, bar).properties(width=W3, height=PLOT_H)

chart = alt.hconcat(p1, p2, p3, spacing=28, bounds="flush").properties(
    padding=0, background="white"
).configure_view(stroke=None)

chart.save("out.html", embed_options={"renderer": "svg", "actions": False})
